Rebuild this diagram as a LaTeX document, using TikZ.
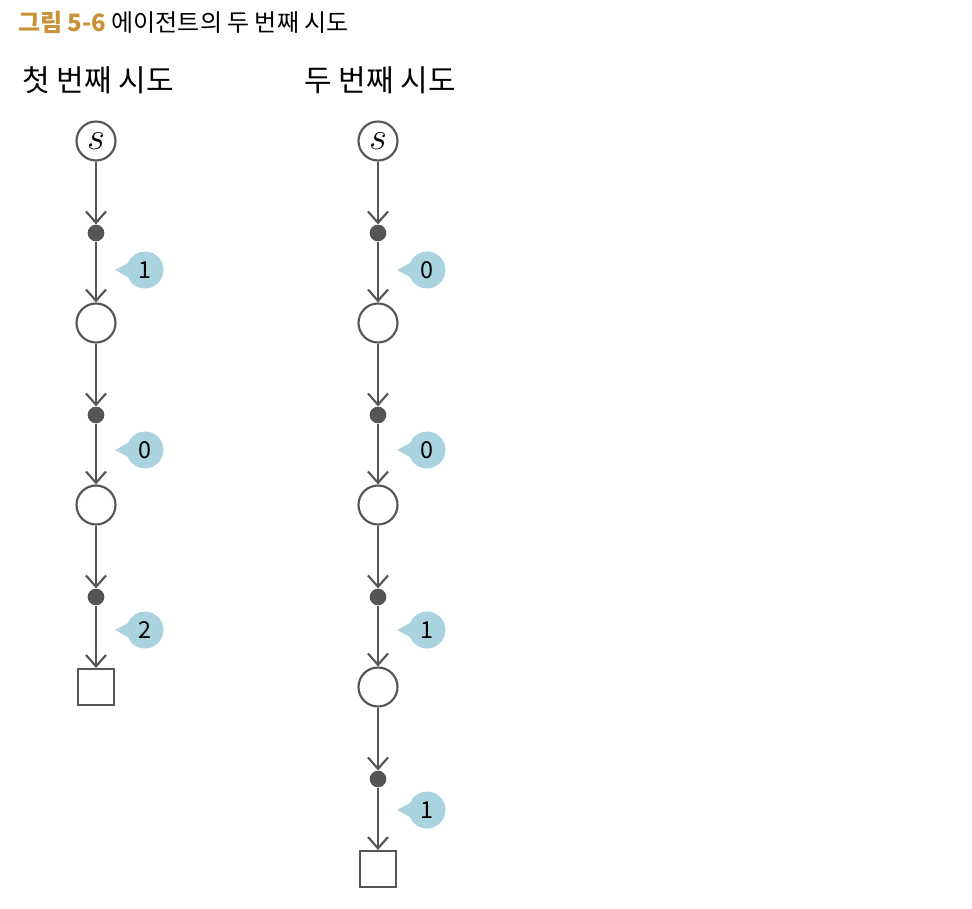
\documentclass[tikz,border=0pt]{standalone}
\usepackage{fix-cm}
\usepackage{fontspec}
\setmainfont{Noto Sans CJK KR}
\usetikzlibrary{arrows.meta,shapes.callouts}

\definecolor{figgold}{HTML}{C8923A}
\definecolor{linegray}{HTML}{555555}
\definecolor{rewblue}{HTML}{A9D3DF}

\tikzset{
  state/.style={circle, draw=linegray, line width=1.6pt, minimum size=29.25pt,
    inner sep=0pt, font=\fontsize{29pt}{31pt}\selectfont},
  term/.style={rectangle, draw=linegray, line width=1.6pt, minimum size=27pt, inner sep=0pt},
  act/.style={circle, fill=linegray, minimum size=12.5pt, inner sep=0pt},
  rew/.style={ellipse callout, fill=rewblue, minimum size=27.75pt, inner sep=0pt,
    callout relative pointer={(-8.6pt,0pt)}, callout pointer arc=44,
    font=\fontsize{17.5pt}{20pt}\selectfont},
  arr/.style={draw=linegray, line width=1.6pt, -{Straight Barb[length=8.5pt,width=15pt]}},
  heading/.style={anchor=west, inner sep=0pt, font=\fontsize{22.5pt}{26pt}\selectfont},
}

\begin{document}
\begin{tikzpicture}[x=0.75pt, y=-0.75pt]
  \useasboundingbox (0,0) rectangle (972,909);

  \node[anchor=west, inner sep=0pt, font=\fontsize{18pt}{21pt}\selectfont] (title) at (18,22)
    {\textcolor{figgold}{\bfseries 그림 5-6} 에이전트의 두 번째 시도};
  \node[heading] (heada) at (22,80) {첫 번째 시도};
  \node[heading] (headb) at (304,80) {두 번째 시도};

  % first attempt
  \node[state] (a0) at (96,141) {$s$};
  \foreach \r/\sty [count=\k] in {1/state,0/state,2/term}{
    \pgfmathtruncatemacro{\j}{\k-1}
    \node[act] (ad\k) at (96,{51+182*\k}) {};
    \node[\sty] (a\k) at (96,{141+182*\k}) {};
    \node[rew] (ar\k) at (145,{90+180*\k}) {\r};
    \draw[arr] (a\j) -- (ad\k);
    \draw[arr] (ad\k) -- (a\k);
  }

  % second attempt
  \node[state] (b0) at (378,141) {$s$};
  \foreach \r/\sty [count=\k] in {0/state,0/state,1/state,1/term}{
    \pgfmathtruncatemacro{\j}{\k-1}
    \node[act] (bd\k) at (378,{51+182*\k}) {};
    \node[\sty] (b\k) at (378,{141+182*\k}) {};
    \node[rew] (br\k) at (427,{90+180*\k}) {\r};
    \draw[arr] (b\j) -- (bd\k);
    \draw[arr] (bd\k) -- (b\k);
  }
\end{tikzpicture}
\end{document}
